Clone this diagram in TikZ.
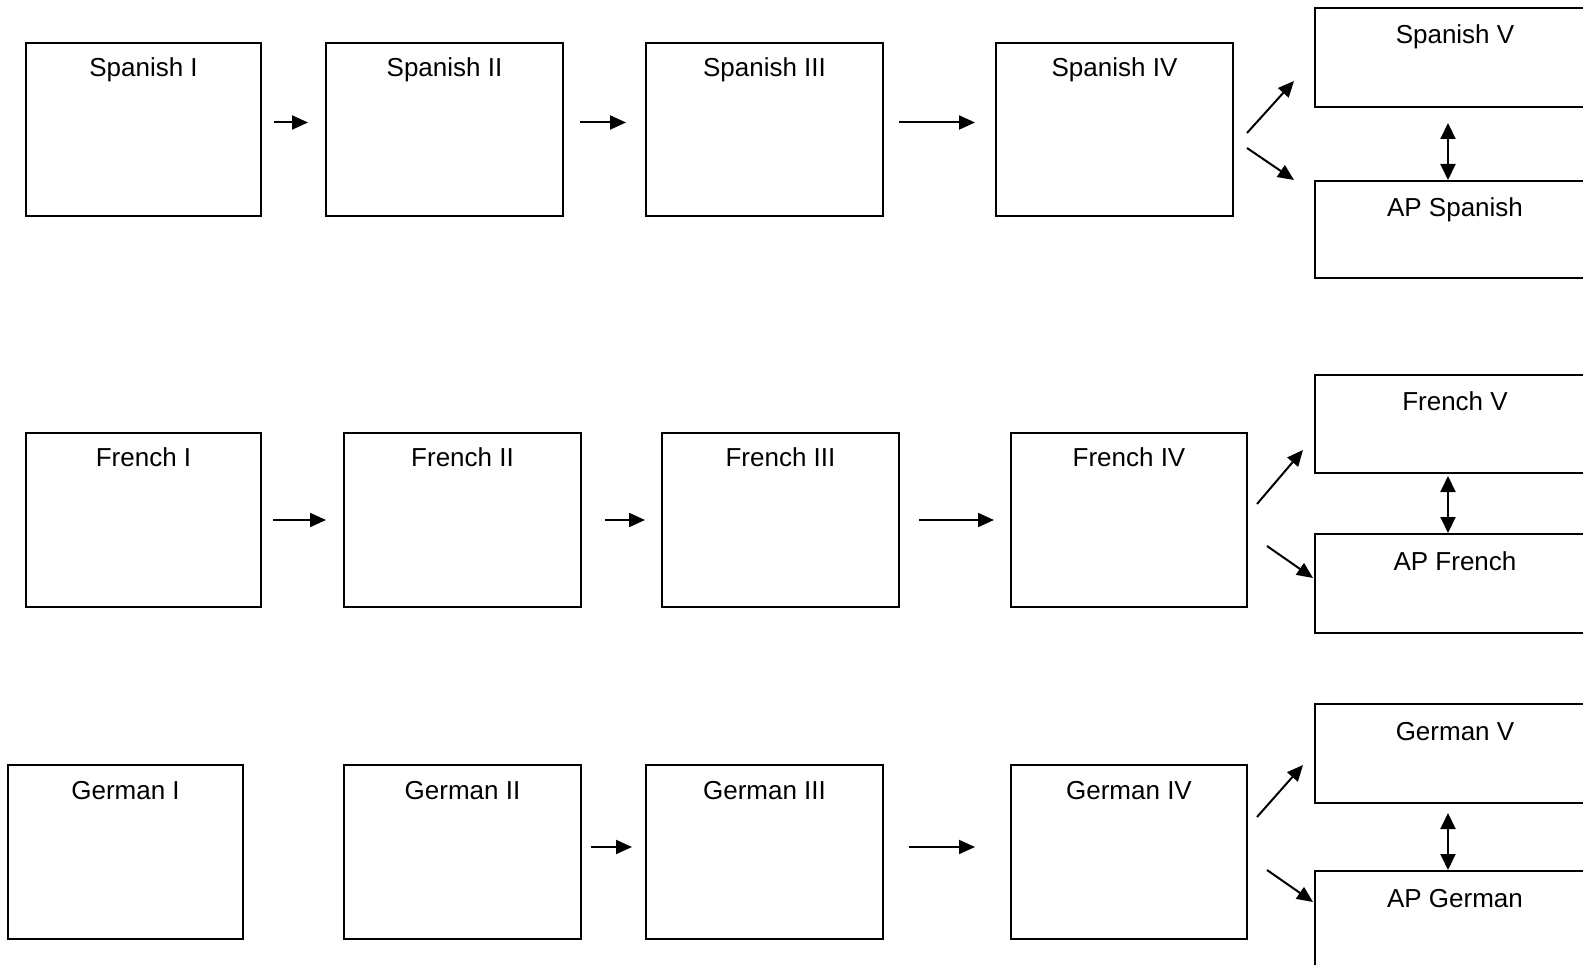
\documentclass[tikz,border=0pt]{standalone}
\usepackage{fontspec}
\setmainfont{Liberation Sans}
\usetikzlibrary{arrows.meta,calc}
\tikzset{
  cbox/.style={draw, line width=2pt, inner sep=0pt, anchor=north west},
  ctext/.style={anchor=base, inner sep=0pt, font=\fontsize{26}{31}\selectfont},
  arr/.style={draw, line width=2pt, -{Triangle[length=16pt,width=14pt]}},
  darr/.style={draw, line width=2pt, {Triangle[length=16pt,width=15pt]}-{Triangle[length=16pt,width=15pt]}}
}
\newcommand\cbx[6]{%
  \node[cbox, minimum width=#4pt-#2pt, minimum height=#5pt-#3pt] (#1) at (#2,#3) {};
  \node[ctext] (#1t) at ([yshift=-35pt]#1.north) {#6};}
\newcommand\rbx[6]{%
  \node[cbox, minimum width=#4pt-#2pt, minimum height=#5pt-#3pt] (#1) at (#2,#3) {};
  \node[ctext] (#1t) at ([yshift=-37pt]#1.north) {#6};}
\begin{document}
\begin{tikzpicture}[x=1pt,y=-1pt]
\useasboundingbox (0,0) rectangle (1583,965);
\clip (0,0) rectangle (1583,965);
% Spanish row
\cbx{s1}{25}{42}{260}{215}{Spanish I}
\cbx{s2}{325}{42}{562}{215}{Spanish II}
\cbx{s3}{645}{42}{882}{215}{Spanish III}
\cbx{s4}{995}{42}{1232}{215}{Spanish IV}
\rbx{sV}{1314}{7}{1594}{106}{Spanish V}
\rbx{sA}{1314}{180}{1594}{277}{AP Spanish}
\draw[arr, shorten <=12pt, shorten >=17pt] ([yshift=7pt]s1.east) -- ([yshift=7pt]s2.west);
\draw[arr, shorten <=16pt, shorten >=19pt] ([yshift=7pt]s2.east) -- ([yshift=7pt]s3.west);
\draw[arr, shorten <=15pt, shorten >=20pt] ([yshift=7pt]s3.east) -- ([yshift=7pt]s4.west);
\draw[darr, shorten <=15pt] ([xshift=-7pt]sV.south) -- ([xshift=-7pt]sA.north);
\draw[arr] ($(s4.east)+(13,3.5)$) -- ($(sV.west)+(-20,23.5)$);
\draw[arr] ($(s4.east)+(13,18.5)$) -- ($(sA.west)+(-20,-49.5)$);
% French row
\cbx{f1}{25}{432}{260}{606}{French I}
\cbx{f2}{343}{432}{580}{606}{French II}
\cbx{f3}{661}{432}{898}{606}{French III}
\cbx{f4}{1010}{432}{1246}{606}{French IV}
\rbx{fV}{1314}{374}{1594}{472}{French V}
\rbx{fA}{1314}{533}{1594}{632}{AP French}
\draw[arr, shorten <=11pt, shorten >=17pt] (f1.east) -- (f2.west);
\draw[arr, shorten <=23pt, shorten >=16pt] (f2.east) -- (f3.west);
\draw[arr, shorten <=19pt, shorten >=16pt] (f3.east) -- (f4.west);
\draw[darr, shorten <=2pt] ([xshift=-7pt]fV.south) -- ([xshift=-7pt]fA.north);
\draw[arr] ($(f4.east)+(9,-16)$) -- ($(fV.west)+(-11,26)$);
\draw[arr] ($(f4.east)+(19,26)$) -- ($(fA.west)+(-1,-5.5)$);
% German row
\cbx{g1}{7}{764}{242}{938}{German I}
\cbx{g2}{343}{764}{580}{938}{German II}
\cbx{g3}{645}{764}{882}{938}{German III}
\cbx{g4}{1010}{764}{1246}{938}{German IV}
\rbx{gV}{1314}{703}{1594}{802}{German V}
\rbx{gA}{1314}{870}{1594}{968}{AP German}
\draw[arr, shorten <=9pt, shorten >=13pt] ([yshift=5pt]g2.east) -- ([yshift=5pt]g3.west);
\draw[arr, shorten <=25pt, shorten >=35pt] ([yshift=5pt]g3.east) -- ([yshift=5pt]g4.west);
\draw[darr, shorten <=9pt] ([xshift=-7pt]gV.south) -- ([xshift=-7pt]gA.north);
\draw[arr] ($(g4.east)+(9,-35)$) -- ($(gV.west)+(-11,11.5)$);
\draw[arr] ($(g4.east)+(19,18)$) -- ($(gA.west)+(-1,-18)$);
\end{tikzpicture}
\end{document}
